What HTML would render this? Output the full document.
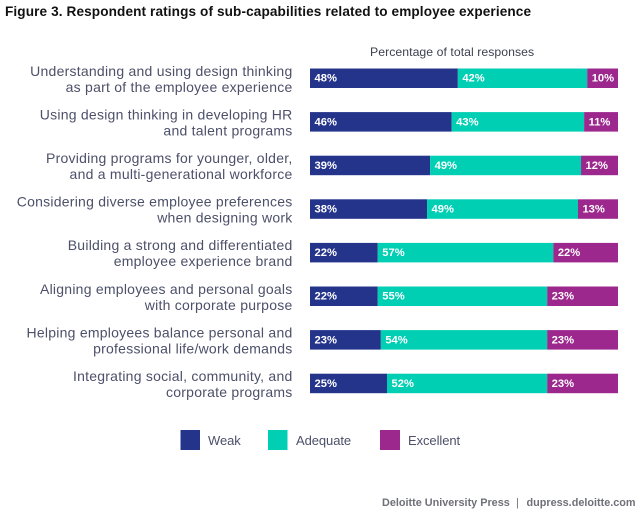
<!DOCTYPE html>
<html lang="en">
<head>
<meta charset="utf-8">
<title>Figure 3. Respondent ratings of sub-capabilities</title>
<style>
html,body{margin:0;padding:0;background:#fff;}
svg{display:block;font-family:"Liberation Sans",sans-serif;}
.cat{font-size:14px;fill:#4c5069;text-anchor:end;letter-spacing:.24px;}
.val{font-size:11.2px;font-weight:bold;fill:#fff;}
.leg{font-size:13px;fill:#4c5069;letter-spacing:-.08px;}
</style>
</head>
<body>
<svg id="chart" width="640" height="513" viewBox="0 0 640 513" xmlns="http://www.w3.org/2000/svg">
<rect width="640" height="513" fill="#fff"/>
<text x="5" y="16" font-size="13.6" font-weight="bold" fill="#111" letter-spacing=".11">Figure 3. Respondent ratings of sub-capabilities related to employee experience</text>
<text x="370" y="56" font-size="12.25" fill="#3d4150" letter-spacing=".05">Percentage of total responses</text>
<g id="rows"></g>
<g>
<rect x="180.500" y="430" width="19.500" height="20" fill="#24348b"/>
<text class="leg" x="208" y="445">Weak</text>
<rect x="268" y="430" width="19.500" height="20" fill="#00cfb4"/>
<text class="leg" x="296" y="445">Adequate</text>
<rect x="380" y="430" width="20" height="20" fill="#9c288e"/>
<text class="leg" x="408" y="445">Excellent</text>
</g>
<g font-size="10.850" font-weight="bold" fill="#6f7078">
<text x="382" y="506">Deloitte University Press</text>
<text x="516" y="506" font-weight="normal">|</text>
<text x="526.500" y="506">dupress.deloitte.com</text>
</g>
</svg>
<script>
const categoryLine1 = [
  "Understanding and using design thinking",
  "Using design thinking in developing HR",
  "Providing programs for younger, older,",
  "Considering diverse employee preferences",
  "Building a strong and differentiated",
  "Aligning employees and personal goals",
  "Helping employees balance personal and",
  "Integrating social, community, and"
];
const categoryLine2 = [
  "as part of the employee experience",
  "and talent programs",
  "and a multi-generational workforce",
  "when designing work",
  "employee experience brand",
  "with corporate purpose",
  "professional life/work demands",
  "corporate programs"
];
const weak = [48, 46, 39, 38, 22, 22, 23, 25];
const adequate = [42, 43, 49, 49, 57, 55, 54, 52];
const excellent = [10, 11, 12, 13, 22, 23, 23, 23];

const SVG_NS = "http://www.w3.org/2000/svg";
const rows = document.getElementById("rows");
const xScale = function (v) { return 310 + Math.min(v, 100) * 3.08; };
const yScale = function (i) { return 68.5 + i * 43.6; };
const BAR_H = 19.5;

function addBar(i, start, value, color, name) {
  const r = document.createElementNS(SVG_NS, "rect");
  
  
  r.setAttribute("x", xScale(start));
  r.setAttribute("y", yScale(i));
  r.setAttribute("width", xScale(start + value) - xScale(start));
  r.setAttribute("height", BAR_H);
  r.setAttribute("fill", color);
  rows.appendChild(r);
  const t = document.createElementNS(SVG_NS, "text");
  
  
  t.setAttribute("class", "val");
  t.setAttribute("x", xScale(start) + 4.5);
  t.setAttribute("y", yScale(i) + 13.2);
  t.textContent = value + "%";
  rows.appendChild(t);
}

function addCategory(i, text, dy, line) {
  const t = document.createElementNS(SVG_NS, "text");
  
  
  t.setAttribute("class", "cat");
  t.setAttribute("x", 292.5);
  t.setAttribute("y", yScale(i) + dy);
  t.textContent = text;
  rows.appendChild(t);
}

for (let i = 0; i < weak.length; i++) {
  addCategory(i, categoryLine1[i], 7.3, 1);
  addCategory(i, categoryLine2[i], 23.3, 2);
  addBar(i, 0, weak[i], "#24348b", "weak");
  addBar(i, weak[i], adequate[i], "#00cfb4", "adequate");
  addBar(i, weak[i] + adequate[i], excellent[i], "#9c288e", "excellent");
}
</script>
</body>
</html>
